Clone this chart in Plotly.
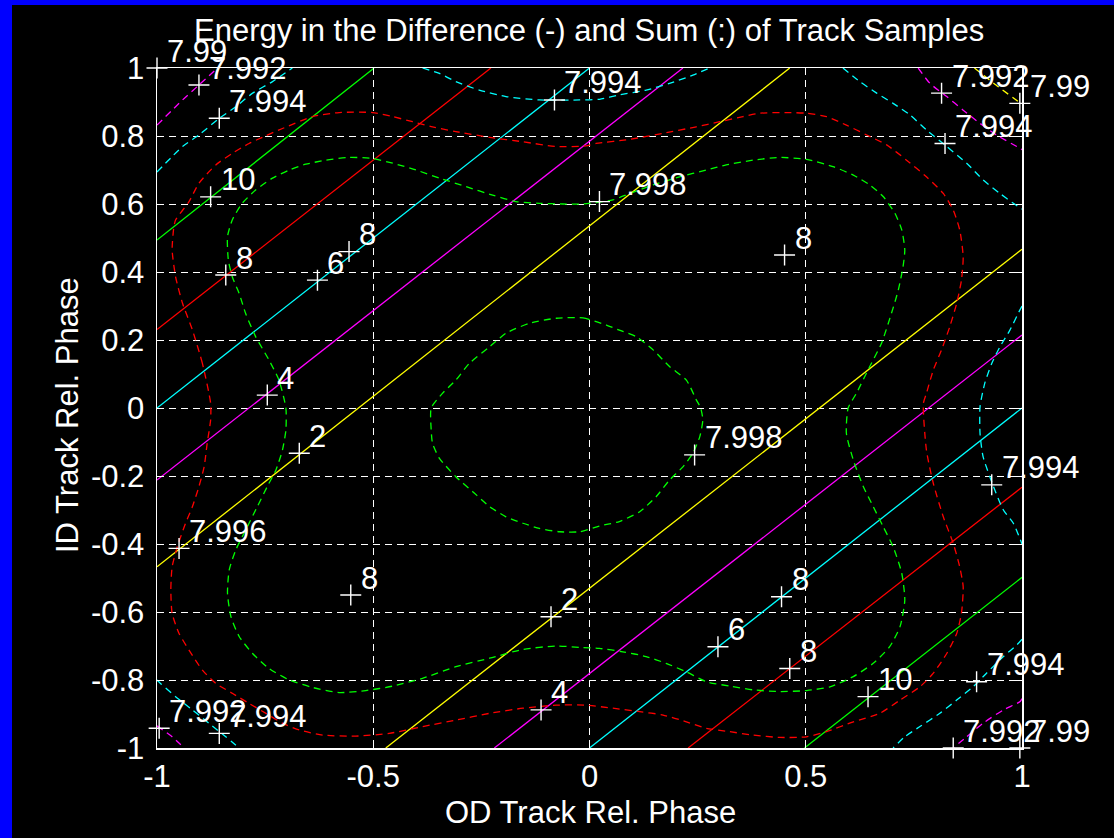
import plotly.graph_objects as go

# ---------------- data ----------------
X_TICKS = [-1, -0.5, 0, 0.5, 1]
X_TICK_TEXT = ["-1", "-0.5", "0", "0.5", "1"]
Y_TICKS = [-1, -0.8, -0.6, -0.4, -0.2, 0, 0.2, 0.4, 0.6, 0.8, 1]
Y_TICK_TEXT = ["-1", "-0.8", "-0.6", "-0.4", "-0.2", "0", "0.2", "0.4", "0.6", "0.8", "1"]

# Difference-energy contours (solid, straight lines), read as end points
DIFF_LEVELS = [2, 4, 6, 8, 10]
DIFF_COLORS = ["#ffff00", "#ff00ff", "#00ffff", "#ff0000", "#00ff00"]
DIFF_UPPER_X = [[-1.0, 0.463], [-1.0, 0.216], [-1.0, 0.0], [-1.0, -0.228], [-1.0, -0.498]]
DIFF_UPPER_Y = [[-0.467, 1.0], [-0.212, 1.0], [0.0, 1.0], [0.231, 1.0], [0.494, 1.0]]
DIFF_LOWER_X = [[-0.471, 1.0], [-0.22, 1.0], [0.0, 1.0], [0.228, 1.0], [0.497, 1.0]]
DIFF_LOWER_Y = [[-1.0, 0.467], [-1.0, 0.215], [-1.0, 0.0], [-1.0, -0.233], [-1.0, -0.498]]

# Sum-energy contours (dashed)
SUM_7990_TR_X = [0.89, 0.94, 1.0]
SUM_7990_TR_Y = [1.0, 0.95, 0.893]

SUM_7992_TL_X = [-1.0, -0.941, -0.903, -0.86]
SUM_7992_TL_Y = [0.832, 0.906, 0.95, 1.0]
SUM_7992_TR_X = [0.76, 0.787, 0.826, 0.864, 0.903, 0.941, 0.988, 1.0]
SUM_7992_TR_Y = [1.0, 0.955, 0.916, 0.876, 0.837, 0.803, 0.769, 0.76]
SUM_7992_BR_X = [1.0, 0.995, 0.957, 0.91, 0.872, 0.841]
SUM_7992_BR_Y = [-0.855, -0.864, -0.888, -0.927, -0.967, -1.0]
SUM_7992_BL_X = [-1.0, -0.965, -0.937]
SUM_7992_BL_Y = [-0.935, -0.967, -1.0]

SUM_7994_TL_X = [-1.0, -0.941, -0.903, -0.856, -0.818, -0.779, -0.733, -0.687]
SUM_7994_TL_Y = [0.694, 0.769, 0.803, 0.852, 0.886, 0.926, 0.960, 1.0]
SUM_7994_TM_X = [-0.386, -0.347, -0.309, -0.255, -0.193, -0.116, -0.023, 0.023, 0.069, 0.131, 0.185, 0.239, 0.278]
SUM_7994_TM_Y = [1.0, 0.984, 0.96, 0.935, 0.916, 0.906, 0.906, 0.908, 0.921, 0.935, 0.955, 0.979, 1.0]
SUM_7994_TR_X = [0.586, 0.625, 0.664, 0.702, 0.741, 0.779, 0.826, 0.872, 0.91, 0.949, 0.98, 1.0]
SUM_7994_TR_Y = [1.0, 0.96, 0.926, 0.896, 0.862, 0.818, 0.769, 0.72, 0.671, 0.631, 0.602, 0.585]
SUM_7994_R_X = [1.0, 0.995, 0.972, 0.949, 0.93, 0.914, 0.903, 0.903, 0.91, 0.934, 0.957, 0.98, 1.0]
SUM_7994_R_Y = [0.30, 0.288, 0.229, 0.18, 0.131, 0.073, 0.004, -0.075, -0.143, -0.231, -0.3, -0.339, -0.40]
SUM_7994_BR_X = [1.0, 0.988, 0.957, 0.918, 0.887, 0.849, 0.81, 0.764, 0.729, 0.702]
SUM_7994_BR_Y = [-0.68, -0.697, -0.731, -0.78, -0.82, -0.859, -0.898, -0.937, -0.967, -1.0]
SUM_7994_BL_X = [-1.0, -0.992, -0.957, -0.918, -0.88, -0.841, -0.81]
SUM_7994_BL_Y = [-0.80, -0.81, -0.849, -0.888, -0.927, -0.967, -1.0]

SUM_7996_X = [-0.876, -0.895, -0.918, -0.941, -0.957, -0.965, -0.961, -0.957, -0.926, -0.903,
              -0.864, -0.826, -0.787, -0.748, -0.71, -0.64, -0.579, -0.502, -0.455, -0.409,
              -0.363, -0.309, -0.231, -0.154, -0.077, -0.008, 0.015, 0.093, 0.17, 0.247,
              0.301, 0.355, 0.394, 0.455, 0.502, 0.548, 0.594, 0.641, 0.687, 0.733,
              0.779, 0.818, 0.841, 0.856, 0.864, 0.86, 0.849, 0.833, 0.814, 0.795,
              0.779, 0.772, 0.779, 0.795, 0.818, 0.841, 0.856, 0.864, 0.86, 0.849,
              0.826, 0.795, 0.764, 0.718, 0.671, 0.61, 0.548, 0.502, 0.44, 0.378,
              0.324, 0.27, 0.224, 0.17, 0.116, 0.054, -0.008, -0.077, -0.154, -0.231,
              -0.309, -0.386, -0.463, -0.54, -0.617, -0.671, -0.71, -0.748, -0.787, -0.826,
              -0.864, -0.895, -0.926, -0.949, -0.965, -0.968, -0.965, -0.953, -0.934, -0.918,
              -0.903, -0.891, -0.884, -0.876, -0.876]
SUM_7996_Y = [0.014, 0.131, 0.229, 0.308, 0.386, 0.465, 0.533, 0.553, 0.607, 0.661,
              0.715, 0.749, 0.778, 0.801, 0.822, 0.857, 0.869, 0.869, 0.857, 0.842,
              0.827, 0.813, 0.796, 0.783, 0.769, 0.771, 0.778, 0.79, 0.808, 0.827,
              0.842, 0.857, 0.867, 0.869, 0.867, 0.857, 0.832, 0.803, 0.774, 0.729,
              0.68, 0.631, 0.582, 0.524, 0.445, 0.376, 0.308, 0.239, 0.171, 0.112,
              0.043, 0.014, -0.124, -0.222, -0.32, -0.398, -0.467, -0.526, -0.604, -0.663,
              -0.722, -0.78, -0.82, -0.859, -0.898, -0.923, -0.952, -0.967, -0.969, -0.962,
              -0.952, -0.942, -0.923, -0.903, -0.893, -0.883, -0.874, -0.874, -0.883, -0.898,
              -0.918, -0.937, -0.957, -0.965, -0.962, -0.947, -0.927, -0.898, -0.869, -0.839,
              -0.81, -0.771, -0.712, -0.663, -0.604, -0.535, -0.467, -0.408, -0.339, -0.29,
              -0.231, -0.173, -0.104, -0.035, 0.014]

SUM_7998_OUTER_X = [-0.702, -0.718, -0.741, -0.772, -0.795, -0.81, -0.826, -0.835, -0.837, -0.826,
                    -0.803, -0.772, -0.733, -0.694, -0.656, -0.609, -0.556, -0.502, -0.455, -0.401,
                    -0.347, -0.285, -0.224, -0.17, -0.116, -0.062, -0.015, 0.054, 0.093, 0.147,
                    0.208, 0.27, 0.316, 0.378, 0.44, 0.502, 0.563, 0.61, 0.648, 0.679,
                    0.706, 0.722, 0.729, 0.725, 0.714, 0.698, 0.675, 0.648, 0.617, 0.598,
                    0.594, 0.61, 0.633, 0.656, 0.679, 0.702, 0.722, 0.729, 0.718, 0.694,
                    0.656, 0.61, 0.556, 0.502, 0.44, 0.378, 0.324, 0.27, 0.224, 0.177,
                    0.131, 0.077, 0.023, -0.023, -0.077, -0.154, -0.231, -0.309, -0.386, -0.455,
                    -0.517, -0.579, -0.64, -0.694, -0.741, -0.779, -0.81, -0.829, -0.837, -0.833,
                    -0.818, -0.795, -0.768, -0.745, -0.725, -0.71, -0.702, -0.702]
SUM_7998_OUTER_Y = [0.0, 0.082, 0.141, 0.21, 0.278, 0.337, 0.386, 0.435, 0.504, 0.553,
                    0.602, 0.641, 0.676, 0.7, 0.717, 0.729, 0.737, 0.734, 0.72, 0.7,
                    0.676, 0.651, 0.626, 0.607, 0.602, 0.6, 0.6, 0.612, 0.631, 0.656,
                    0.68, 0.7, 0.715, 0.729, 0.737, 0.731, 0.71, 0.685, 0.656, 0.622,
                    0.573, 0.524, 0.465, 0.416, 0.347, 0.278, 0.19, 0.122, 0.043, 0.0,
                    -0.075, -0.153, -0.231, -0.29, -0.349, -0.408, -0.486, -0.565, -0.643, -0.702,
                    -0.751, -0.79, -0.82, -0.831, -0.834, -0.829, -0.818, -0.805, -0.776, -0.751,
                    -0.731, -0.717, -0.707, -0.704, -0.7, -0.71, -0.736, -0.761, -0.795, -0.818,
                    -0.831, -0.837, -0.822, -0.8, -0.766, -0.722, -0.672, -0.614, -0.545, -0.476,
                    -0.418, -0.359, -0.29, -0.231, -0.182, -0.124, -0.065, 0.0]

SUM_7998_INNER_X = [-0.077, -0.015, 0.039, 0.069, 0.108, 0.147, 0.185, 0.224, 0.247, 0.257,
                    0.262, 0.255, 0.239, 0.216, 0.185, 0.154, 0.116, 0.069, 0.023, -0.023,
                    -0.069, -0.116, -0.154, -0.193, -0.231, -0.27, -0.309, -0.347, -0.363, -0.366,
                    -0.366, -0.34, -0.309, -0.278, -0.231, -0.193, -0.139, -0.077]
SUM_7998_INNER_Y = [0.264, 0.265, 0.244, 0.229, 0.21, 0.171, 0.122, 0.082, 0.024, 0.0,
                    -0.035, -0.084, -0.133, -0.173, -0.212, -0.261, -0.305, -0.334, -0.347, -0.364,
                    -0.364, -0.354, -0.339, -0.32, -0.29, -0.246, -0.202, -0.148, -0.104, -0.065,
                    0.0, 0.043, 0.082, 0.131, 0.18, 0.22, 0.249, 0.264]

# Contour labels (clabel "+" positions and texts)
LABEL_TEXT = ["7.99", "7.992", "7.994", "10", "8", "6", "8", "4", "7.994", "7.998",
              "8", "7.992", "7.99", "7.994", "2", "7.996", "8", "2", "7.992", "7.994",
              "4", "7.998", "7.994", "8", "6", "8", "10", "7.994", "7.992", "7.99"]
LABEL_X = [-1.0, -0.903, -0.856, -0.876, -0.841, -0.629, -0.556, -0.745, -0.081, 0.023,
           0.451, 0.814, 0.995, 0.822, -0.671, -0.949, -0.552, -0.089, -0.995, -0.856,
           -0.112, 0.243, 0.930, 0.444, 0.297, 0.463, 0.644, 0.895, 0.841, 0.995]
LABEL_Y = [1.0, 0.95, 0.852, 0.621, 0.391, 0.376, 0.460, 0.038, 0.906, 0.607,
           0.45, 0.926, 0.896, 0.778, -0.133, -0.413, -0.55, -0.614, -0.942, -0.957,
           -0.888, -0.138, -0.226, -0.555, -0.702, -0.766, -0.849, -0.805, -1.0, -1.0]

TITLE = "Energy in the Difference (-) and Sum (:) of Track Samples"
X_LABEL = "OD Track Rel. Phase"
Y_LABEL = "ID Track Rel. Phase"

# ---------------- figure ----------------
FONT = "Liberation Sans, Arial, sans-serif"
FS = 31
DASH = "7px,5px"

fig = go.Figure()

for i, lvl in enumerate(DIFF_LEVELS):
    for xs, ys in ((DIFF_UPPER_X[i], DIFF_UPPER_Y[i]), (DIFF_LOWER_X[i], DIFF_LOWER_Y[i])):
        fig.add_trace(go.Scatter(x=xs, y=ys, mode="lines",
                                 line=dict(color=DIFF_COLORS[i], width=1.3),
                                 hoverinfo="skip", showlegend=False))

sum_pieces = [
    (SUM_7990_TR_X, SUM_7990_TR_Y, "#ffff00"),
    (SUM_7992_TL_X, SUM_7992_TL_Y, "#ff00ff"),
    (SUM_7992_TR_X, SUM_7992_TR_Y, "#ff00ff"),
    (SUM_7992_BR_X, SUM_7992_BR_Y, "#ff00ff"),
    (SUM_7992_BL_X, SUM_7992_BL_Y, "#ff00ff"),
    (SUM_7994_TL_X, SUM_7994_TL_Y, "#00ffff"),
    (SUM_7994_TM_X, SUM_7994_TM_Y, "#00ffff"),
    (SUM_7994_TR_X, SUM_7994_TR_Y, "#00ffff"),
    (SUM_7994_R_X, SUM_7994_R_Y, "#00ffff"),
    (SUM_7994_BR_X, SUM_7994_BR_Y, "#00ffff"),
    (SUM_7994_BL_X, SUM_7994_BL_Y, "#00ffff"),
    (SUM_7996_X, SUM_7996_Y, "#ff0000"),
    (SUM_7998_OUTER_X, SUM_7998_OUTER_Y, "#00ff00"),
    (SUM_7998_INNER_X, SUM_7998_INNER_Y, "#00ff00"),
]
for xs, ys, col in sum_pieces:
    fig.add_trace(go.Scatter(x=xs, y=ys, mode="lines",
                             line=dict(color=col, width=1.3, dash=DASH, shape="spline", smoothing=0.6),
                             hoverinfo="skip", showlegend=False))

fig.add_trace(go.Scatter(x=LABEL_X, y=LABEL_Y, mode="markers", cliponaxis=False,
                         marker=dict(symbol="cross-thin", size=15,
                                     line=dict(color="white", width=1.4)),
                         hoverinfo="skip", showlegend=False))

for t, x, y in zip(LABEL_TEXT, LABEL_X, LABEL_Y):
    fig.add_annotation(x=x, y=y, text=t, showarrow=False, xanchor="left", yanchor="middle",
                       xshift=8, yshift=17, font=dict(family=FONT, size=FS, color="white"))

L, R, T, B = 157, 92, 68, 90
W, H = 1114, 838
pw, ph = W - L - R, H - T - B

def px2paper_x(px):
    return (px - L) / pw

def py2paper_y(py):
    return (H - B - py) / ph

fig.add_annotation(x=px2paper_x(589), y=py2paper_y(31), xref="paper", yref="paper",
                   text=TITLE, showarrow=False, xanchor="center", yanchor="middle",
                   font=dict(family=FONT, size=FS, color="white"))
fig.add_annotation(x=px2paper_x(590), y=py2paper_y(812), xref="paper", yref="paper",
                   text=X_LABEL, showarrow=False, xanchor="center", yanchor="middle",
                   font=dict(family=FONT, size=FS, color="white"))
fig.add_annotation(x=px2paper_x(67), y=py2paper_y(415), xref="paper", yref="paper",
                   text=Y_LABEL, showarrow=False, xanchor="center", yanchor="middle", textangle=-90,
                   font=dict(family=FONT, size=FS, color="white"))

# window frame (blue left and top strips)
fig.add_shape(type="rect", xref="paper", yref="paper", layer="below",
              x0=px2paper_x(0), x1=px2paper_x(12), y0=py2paper_y(H), y1=py2paper_y(0),
              fillcolor="#0000ff", line=dict(width=0))
fig.add_shape(type="rect", xref="paper", yref="paper", layer="below",
              x0=px2paper_x(0), x1=px2paper_x(W), y0=py2paper_y(5), y1=py2paper_y(0),
              fillcolor="#0000ff", line=dict(width=0))

axis_common = dict(
    showgrid=True, gridcolor="white", gridwidth=1, griddash=DASH,
    showline=True, linecolor="white", linewidth=1.5, mirror="allticks",
    ticks="inside", ticklen=6, tickcolor="white", tickwidth=1,
    zeroline=False, tickfont=dict(family=FONT, size=FS, color="white"),
    range=[-1, 1], autorange=False, fixedrange=True,
)
fig.update_xaxes(tickvals=X_TICKS, ticktext=X_TICK_TEXT, ticklabelstandoff=0, **axis_common)
fig.update_yaxes(tickvals=Y_TICKS, ticktext=Y_TICK_TEXT, ticklabelstandoff=5, **axis_common)

fig.update_layout(
    width=W, height=H, autosize=False,
    margin=dict(l=L, r=R, t=T, b=B, pad=0),
    paper_bgcolor="black", plot_bgcolor="black",
    font=dict(family=FONT, size=FS, color="white"),
    showlegend=False,
)

fig.write_html("out.html", config={"displayModeBar": False, "staticPlot": True},
               post_script="document.body.style.margin='0';document.body.style.overflow='hidden';")
